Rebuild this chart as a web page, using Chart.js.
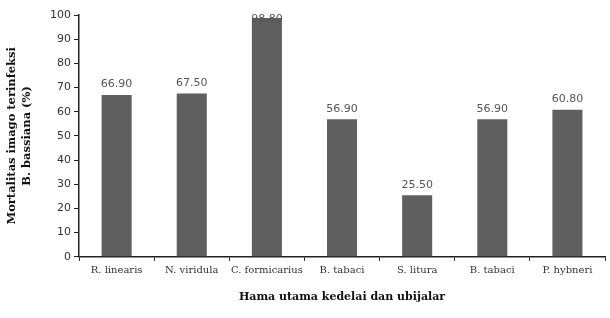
<!DOCTYPE html>
<html>
<head>
<meta charset="utf-8">
<script src="https://cdn.jsdelivr.net/npm/chart.js@4.4.1/dist/chart.umd.min.js"></script>
<style>
  html, body { margin: 0; padding: 0; background: #fff; }
  #wrap { width: 610px; height: 318px; }
</style>
</head>
<body>
<div id="wrap"><canvas id="myChart"></canvas></div>
<script>
// Données du graphique
const categories = ['R. linearis', 'N. viridula', 'C. formicarius', 'B. tabaci', 'S. litura', 'B. tabaci', 'P. hybneri'];
const mortalitas = [66.90, 67.50, 98.80, 56.90, 25.50, 56.90, 60.80];
const yTicks = [0, 10, 20, 30, 40, 50, 60, 70, 80, 90, 100];

// Étiquettes de valeur au-dessus des barres
const valueLabels = {
    id: 'valueLabels',
    afterDatasetsDraw(chart) {
        const ctx = chart.ctx;
        const meta = chart.getDatasetMeta(0);
        ctx.save();
        ctx.font = '11px "DejaVu Sans"';
        ctx.fillStyle = '#555';
        ctx.textAlign = 'center';
        ctx.textBaseline = 'bottom';
        meta.data.forEach((bar, i) => {
            // la plus haute barre : étiquette posée sur le sommet, comme dans l'original
            const y = mortalitas[i] > 95 ? bar.y + 7 : bar.y - 5;
            ctx.fillText(mortalitas[i].toFixed(2), bar.x, y);
        });
        ctx.restore();
    }
};

const config = {
    type: 'bar',
    data: {
        labels: categories,
        datasets: [{
            data: mortalitas,
            backgroundColor: '#5f5f5f',
            categoryPercentage: 1,
            barPercentage: 0.4,
        }]
    },
    options: {
        responsive: true,
        maintainAspectRatio: false,
        animation: false,
        layout: { padding: { top: 15, right: 5, left: 4, bottom: 14 } },
        scales: {
            x: {
                offset: true,
                grid: {
                    offset: true,
                    drawOnChartArea: false,
                    color: '#222',
                    tickLength: 4,
                },
                border: { color: '#222', width: 1.5 },
                ticks: {
                    color: '#333',
                    font: { family: 'DejaVu Serif', size: 10 },
                    maxRotation: 0,
                    padding: 4,
                },
                title: {
                    display: true,
                    text: 'Hama utama kedelai dan ubijalar',
                    color: '#111',
                    font: { family: 'DejaVu Serif', size: 11, weight: 'bold' },
                    padding: { top: 10, bottom: 0 },
                }
            },
            y: {
                min: 0,
                max: 100,
                afterBuildTicks(axis) {
                    axis.ticks = yTicks.map(v => ({ value: v }));
                },
                grid: {
                    drawOnChartArea: false,
                    color: '#222',
                    tickLength: 5,
                },
                border: { color: '#222', width: 1.5 },
                ticks: {
                    color: '#333',
                    font: { family: 'DejaVu Sans', size: 11 },
                    padding: 3,
                },
                title: {
                    display: true,
                    text: ['Mortalitas imago terinfeksi', 'B. bassiana (%)'],
                    color: '#111',
                    font: { family: 'DejaVu Serif', size: 11.5, weight: 'bold', lineHeight: 1.35 },
                    padding: { top: 0, bottom: 12 },
                }
            }
        },
        plugins: {
            legend: { display: false },
            tooltip: { enabled: false },
        }
    },
    plugins: [valueLabels]
};

var myChart = new Chart(document.getElementById('myChart'), config);
</script>
</body>
</html>
